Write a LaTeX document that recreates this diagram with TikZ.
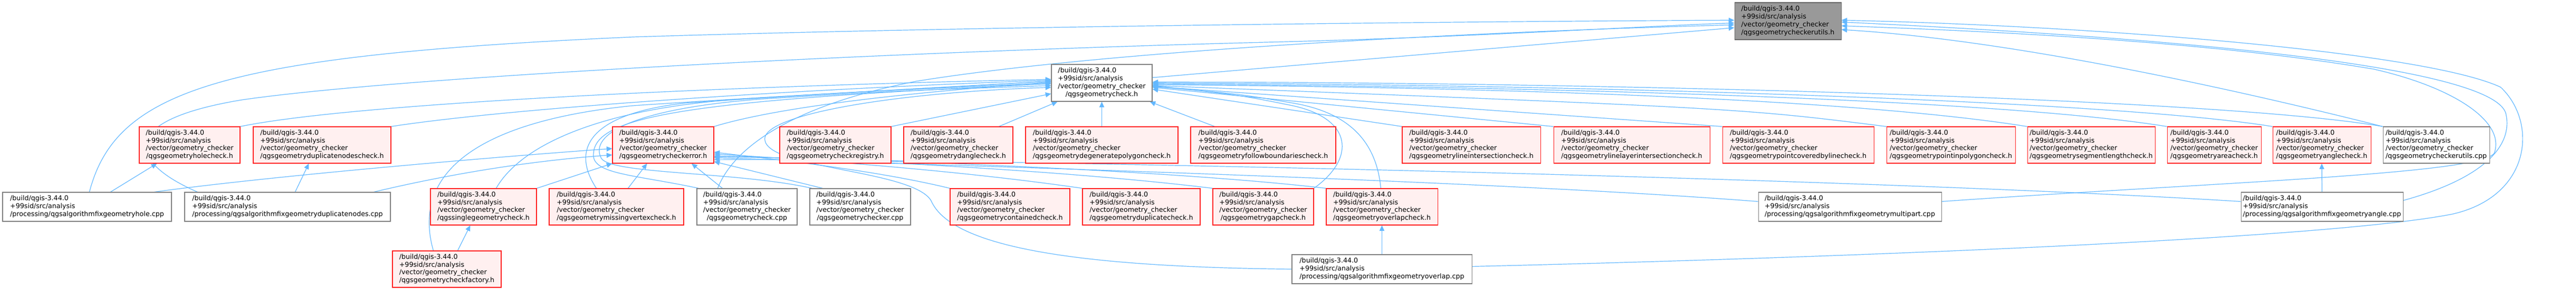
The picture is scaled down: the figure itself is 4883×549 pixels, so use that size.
\documentclass[tikz,border=0pt]{standalone}
\usepackage{fontspec}
\newfontfamily\dvs{DejaVu Sans}
\usetikzlibrary{arrows.meta,calc}
\definecolor{edgec}{HTML}{63B8FF}
\definecolor{redfill}{HTML}{FFF0F0}
\definecolor{redline}{HTML}{FF2020}
\definecolor{greyfill}{HTML}{999999}
\definecolor{greyline}{HTML}{666666}
\definecolor{whline}{HTML}{808080}
\pgfdeclarelayer{bg}
\pgfsetlayers{bg,main}
\newcommand\hdrl[1]{\begin{tabular}{@{}l@{}}/build/qgis-3.44.0\\+99sid/src/analysis\\/vector/geometry\_checker\\\multicolumn{1}{@{}c@{}}{/#1}\end{tabular}}
\newcommand\cppl[1]{\begin{tabular}{@{}l@{}}/build/qgis-3.44.0\\+99sid/src/analysis\\\multicolumn{1}{@{}c@{}}{/processing/#1}\end{tabular}}
\newcommand\nd[7]{%
\pgfmathsetmacro\ndx{(#2+#3)/2}%
\pgfmathsetmacro\ndy{(#4+#5)/2}%
\pgfmathsetmacro\ndw{(#3-#2)*0.75}%
\pgfmathsetmacro\ndh{(#5-#4)*0.75}%
\node[#6,minimum width=\ndw pt,minimum height=\ndh pt] (#1) at (\ndx,\ndy) {#7};}
\begin{document}
\begin{tikzpicture}[x=0.75pt,y=-0.75pt,
  nb/.style={rectangle,inner xsep=0pt,inner ysep=0pt,line width=0.8pt,
    font=\dvs\fontsize{9.5}{11.1}\selectfont},
  redn/.style={nb,draw=redline,fill=redfill},
  whn/.style={nb,draw=whline,fill=white},
  grn/.style={nb,draw=greyline,fill=greyfill},
  e/.style={draw=edgec,line width=0.9pt,-{Triangle[length=8pt,width=7pt]}}]
\useasboundingbox (0,0) rectangle (4883,549);
% root and main
\nd{R}{3288}{3490}{5}{75}{grn}{\hdrl{qgsgeometrycheckerutils.h}}
\nd{C}{1993}{2184}{122}{192}{whn}{\hdrl{qgsgeometrycheck.h}}
% row 2
\nd{hc}{264}{455}{240}{309}{redn}{\hdrl{qgsgeometryholecheck.h}}
\nd{dnc}{480}{741}{240}{309}{redn}{\hdrl{qgsgeometryduplicatenodescheck.h}}
\nd{E}{1161}{1353}{240}{309}{redn}{\hdrl{qgsgeometrycheckerror.h}}
\nd{reg}{1478}{1689}{240}{309}{redn}{\hdrl{qgsgeometrycheckregistry.h}}
\nd{dan}{1713}{1920}{240}{309}{redn}{\hdrl{qgsgeometrydanglecheck.h}}
\nd{deg}{1944}{2233}{240}{309}{redn}{\hdrl{qgsgeometrydegeneratepolygoncheck.h}}
\nd{fb}{2257}{2532}{240}{309}{redn}{\hdrl{qgsgeometryfollowboundariescheck.h}}
\nd{li}{2658}{2920}{240}{309}{redn}{\hdrl{qgsgeometrylineintersectioncheck.h}}
\nd{lli}{2945}{3241}{240}{309}{redn}{\hdrl{qgsgeometrylinelayerintersectioncheck.h}}
\nd{pcl}{3265}{3552}{240}{309}{redn}{\hdrl{qgsgeometrypointcoveredbylinecheck.h}}
\nd{pip}{3576}{3820}{240}{309}{redn}{\hdrl{qgsgeometrypointinpolygoncheck.h}}
\nd{sl}{3843}{4085}{240}{309}{redn}{\hdrl{qgsgeometrysegmentlengthcheck.h}}
\nd{ar}{4108}{4286}{240}{309}{redn}{\hdrl{qgsgeometryareacheck.h}}
\nd{ang}{4308}{4494}{240}{309}{redn}{\hdrl{qgsgeometryanglecheck.h}}
\nd{ucpp}{4517}{4719}{240}{309}{whn}{\hdrl{qgsgeometrycheckerutils.cpp}}
% row 3
\nd{sg}{816}{1017}{357}{426}{redn}{\hdrl{qgssinglegeometrycheck.h}}
\nd{mv}{1041}{1296}{357}{426}{redn}{\hdrl{qgsgeometrymissingvertexcheck.h}}
\nd{ccpp}{1321}{1511}{357}{426}{whn}{\hdrl{qgsgeometrycheck.cpp}}
\nd{crcpp}{1535}{1726}{357}{426}{whn}{\hdrl{qgsgeometrychecker.cpp}}
\nd{con}{1801}{2028}{357}{426}{redn}{\hdrl{qgsgeometrycontainedcheck.h}}
\nd{dup}{2052}{2275}{357}{426}{redn}{\hdrl{qgsgeometryduplicatecheck.h}}
\nd{gap}{2299}{2490}{357}{426}{redn}{\hdrl{qgsgeometrygapcheck.h}}
\nd{ovh}{2514}{2725}{357}{426}{redn}{\hdrl{qgsgeometryoverlapcheck.h}}
\nd{hcpp}{5}{325}{364}{419}{whn}{\cppl{qgsalgorithmfixgeometryhole.cpp}}
\nd{dncpp}{350}{740}{364}{419}{whn}{\cppl{qgsalgorithmfixgeometryduplicatenodes.cpp}}
\nd{mpcpp}{3333}{3680}{364}{419}{whn}{\cppl{qgsalgorithmfixgeometrymultipart.cpp}}
\nd{acpp}{4248}{4555}{364}{419}{whn}{\cppl{qgsalgorithmfixgeometryangle.cpp}}
% row 4
\nd{fac}{744}{950}{475}{544}{redn}{\hdrl{qgsgeometrycheckfactory.h}}
\nd{ocpp}{2449}{2790}{482}{537}{whn}{\cppl{qgsalgorithmfixgeometryoverlap.cpp}}
\begin{pgfonlayer}{bg}
% to R
\draw[e] ($(hcpp.north west)+(165,0)$) .. controls (220,170) and (420,105) .. (1200,70) .. controls (1900,48) and (2900,40) .. (R.179);
\draw[e] ($(dncpp.north west)+(25,0)$) .. controls (250,310) and (210,230) .. (459,189) .. controls (800,140) and (1800,95) .. (2400,80) .. controls (2800,70) and (3100,50) .. (R.182);
\draw[e] ($(ccpp.north west)+(40,0)$) .. controls (1390,280) and (1500,200) .. (1736,154) .. controls (2100,95) and (2800,60) .. (R.184);
\draw[e] (C.6) -- (R.187);
\draw[e] (ucpp.north west) .. controls (4200,160) and (3800,75) .. (R.351);
\draw[e] ($(mpcpp.north east)+(0,18)$) .. controls (4200,345) and (4700,330) .. (4728,290) .. controls (4750,230) and (4650,165) .. (4500,131) .. controls (4200,80) and (3800,60) .. (R.355);
\draw[e] ($(acpp.north east)+(0,16)$) .. controls (4700,340) and (4765,280) .. (4750,215) .. controls (4730,140) and (4300,80) .. (R.359);
\draw[e] ($(ocpp.north east)+(0,23)$) .. controls (3400,490) and (4400,455) .. (4650,405) .. controls (4800,370) and (4810,230) .. (4740,165) .. controls (4600,100) and (4000,50) .. (R.1);
% to C, left side
\draw[e] (hc.north east) .. controls (700,190) and (1500,160) .. (C.176);
\draw[e] (dnc.north east) .. controls (1000,200) and (1600,165) .. (C.177);
\draw[e] (E.north east) .. controls (1500,195) and (1800,170) .. (C.179);
\draw[e] ($(sg.north west)+(125,0)$) .. controls (990,270) and (1150,205) .. (1400,188) .. controls (1700,170) .. (C.178);
\draw[e] ($(mv.north west)+(90,0)$) .. controls (1080,280) and (1120,215) .. (1300,195) .. controls (1600,175) .. (C.180);
\draw[e] ($(fac.north west)+(78,0)$) .. controls (780,330) and (900,230) .. (1200,200) .. controls (1500,180) and (1800,165) .. (C.178);
\draw[e] (reg.north east) -- (C.192);
\draw[e] ($(ccpp.north west)+(4,0)$) .. controls (1200,330) and (1120,330) .. (1125,290) .. controls (1130,220) and (1300,190) .. (C.181);
\draw[e] ($(crcpp.north west)+(5,0)$) .. controls (1400,325) and (1160,330) .. (1140,300) .. controls (1115,255) and (1200,205) .. (1450,187) .. controls (1700,172) .. (C.183);
\draw[e] (ocpp.west) .. controls (2000,505) and (1800,460) .. (1765,380) .. controls (1730,320) and (1440,320) .. (1450,260) .. controls (1460,215) and (1700,175) .. (C.185);
% to C, bottom
\draw[e] ($(dan.north east)+(-27,0)$) -- ($(C.south west)+(12,0)$);
\draw[e] (deg.north) -- (C.south);
\draw[e] ($(fb.north west)+(46,0)$) -- ($(C.south east)+(-5,0)$);
% to C, right side
\draw[e] (li.north west) -- (C.353);
\draw[e] (lli.north west) -- (C.355);
\draw[e] (pcl.north west) -- (C.356);
\draw[e] (pip.north west) .. controls (3300,205) .. (C.357);
\draw[e] (sl.north west) .. controls (3500,185) and (2800,165) .. (C.358);
\draw[e] (ar.north west) .. controls (3800,190) and (3000,165) .. (C.359);
\draw[e] (ang.north west) .. controls (4000,190) and (3000,160) .. (C.0);
\draw[e] (ucpp.north west) .. controls (4200,185) and (3000,155) .. (C.1);
\draw[e] (gap.north east) .. controls (2570,300) and (2565,225) .. (2450,200) .. controls (2350,180) .. (C.357);
\draw[e] ($(ovh.north west)+(104,0)$) .. controls (2610,280) and (2570,215) .. (2450,195) .. controls (2350,178) .. (C.356);
% to E
\draw[e] ($(hcpp.north west)+(288,0)$) .. controls (500,335) and (900,300) .. (E.184);
\draw[e] ($(dncpp.north east)+(-32,0)$) .. controls (850,330) and (1000,305) .. (E.191);
\draw[e] (sg.north east) -- (E.south west);
\draw[e] ($(mv.north west)+(150,0)$) -- (E.229);
\draw[e] ($(ccpp.north west)+(49,0)$) -- (E.327);
\draw[e] ($(crcpp.north west)+(25,0)$) -- (E.342);
\draw[e] (con.north west) .. controls (1650,320) and (1450,300) .. (E.352);
\draw[e] (dup.north west) .. controls (1800,320) and (1500,300) .. (E.350);
\draw[e] (gap.north west) .. controls (2000,320) and (1550,300) .. (E.348);
\draw[e] (ovh.north west) .. controls (2200,320) and (1600,300) .. (E.347);
\draw[e] ($(mpcpp.north west)+(0,18)$) .. controls (2800,340) and (1700,310) .. (E.346);
\draw[e] ($(acpp.north west)+(0,18)$) .. controls (3500,335) and (1800,300) .. (E.344);
% others
\draw[e] ($(hcpp.north west)+(205,0)$) -- ($(hc.south west)+(34,0)$);
\draw[e] ($(dncpp.north west)+(210,0)$) -- ($(dnc.south west)+(106,0)$);
\draw[e] ($(fac.north west)+(124,0)$) -- ($(sg.south west)+(76,0)$);
\draw[e] (ocpp.north) -- (ovh.south);
\draw[e] (acpp.north) -- (ang.south);
\end{pgfonlayer}
\end{tikzpicture}
\end{document}
